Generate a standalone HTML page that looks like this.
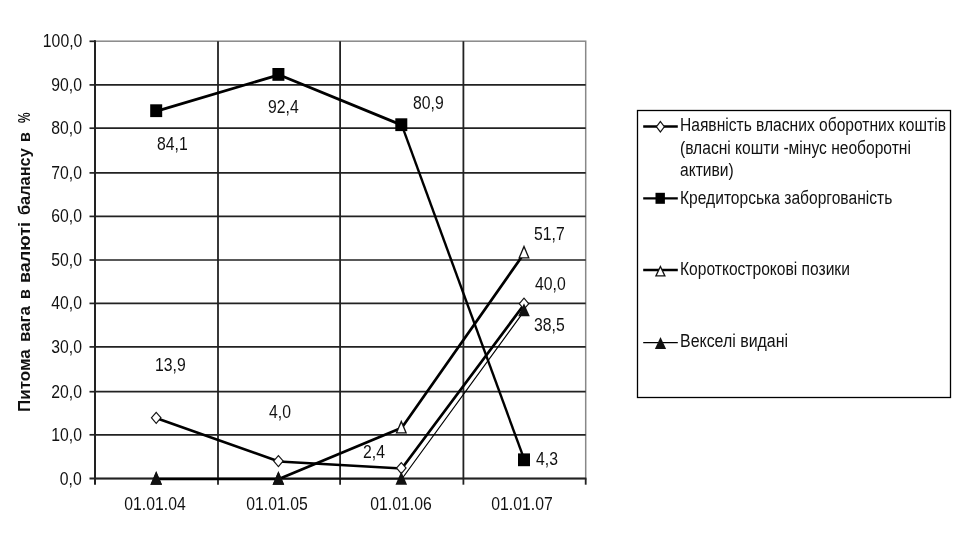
<!DOCTYPE html>
<html><head><meta charset="utf-8"><title>chart</title>
<style>
html,body{margin:0;padding:0;background:#fff;}
body{width:962px;height:535px;position:relative;overflow:hidden;font-family:"Liberation Sans",sans-serif;color:#111;}
svg{position:absolute;left:0;top:0;}
.t{position:absolute;white-space:nowrap;font-size:18.5px;line-height:18.5px;transform-origin:0 0;transform:scaleX(0.852);}
.r{transform-origin:100% 0;}
.c{transform-origin:50% 0;}
.lg{position:absolute;white-space:nowrap;font-size:18px;line-height:22.4px;transform-origin:0 0;transform:scaleX(0.866);}
.yt{position:absolute;white-space:nowrap;font-weight:bold;font-size:17px;line-height:20px;transform-origin:0 0;}
#w{position:absolute;left:0;top:0;width:962px;height:535px;will-change:transform;filter:blur(0.4px);}
</style></head><body><div id="w">

<svg width="962" height="535" viewBox="0 0 962 535">
<rect x="95" y="41.2" width="490.7" height="437.4" fill="none" stroke="#888" stroke-width="1.5"/>
<line x1="95" x2="585.7" y1="434.8" y2="434.8" stroke="#222" stroke-width="1.7"/>
<line x1="95" x2="585.7" y1="391.7" y2="391.7" stroke="#222" stroke-width="1.7"/>
<line x1="95" x2="585.7" y1="346.9" y2="346.9" stroke="#222" stroke-width="1.7"/>
<line x1="95" x2="585.7" y1="303.4" y2="303.4" stroke="#222" stroke-width="1.7"/>
<line x1="95" x2="585.7" y1="260.0" y2="260.0" stroke="#222" stroke-width="1.7"/>
<line x1="95" x2="585.7" y1="216.4" y2="216.4" stroke="#222" stroke-width="1.7"/>
<line x1="95" x2="585.7" y1="172.9" y2="172.9" stroke="#222" stroke-width="1.7"/>
<line x1="95" x2="585.7" y1="128.2" y2="128.2" stroke="#222" stroke-width="1.7"/>
<line x1="95" x2="585.7" y1="84.9" y2="84.9" stroke="#222" stroke-width="1.7"/>
<line x1="218.0" x2="218.0" y1="41.2" y2="478.6" stroke="#222" stroke-width="1.8"/>
<line x1="340.1" x2="340.1" y1="41.2" y2="478.6" stroke="#222" stroke-width="1.8"/>
<line x1="463.4" x2="463.4" y1="41.2" y2="478.6" stroke="#222" stroke-width="1.8"/>
<line x1="95" x2="95" y1="40.3" y2="484.7" stroke="#222" stroke-width="2"/>
<line x1="89.5" x2="586.4" y1="478.6" y2="478.6" stroke="#222" stroke-width="2"/>
<line x1="89.5" x2="95" y1="434.8" y2="434.8" stroke="#222" stroke-width="1.7"/>
<line x1="89.5" x2="95" y1="391.7" y2="391.7" stroke="#222" stroke-width="1.7"/>
<line x1="89.5" x2="95" y1="346.9" y2="346.9" stroke="#222" stroke-width="1.7"/>
<line x1="89.5" x2="95" y1="303.4" y2="303.4" stroke="#222" stroke-width="1.7"/>
<line x1="89.5" x2="95" y1="260.0" y2="260.0" stroke="#222" stroke-width="1.7"/>
<line x1="89.5" x2="95" y1="216.4" y2="216.4" stroke="#222" stroke-width="1.7"/>
<line x1="89.5" x2="95" y1="172.9" y2="172.9" stroke="#222" stroke-width="1.7"/>
<line x1="89.5" x2="95" y1="128.2" y2="128.2" stroke="#222" stroke-width="1.7"/>
<line x1="89.5" x2="95" y1="84.9" y2="84.9" stroke="#222" stroke-width="1.7"/>
<line x1="89.5" x2="95" y1="41.3" y2="41.3" stroke="#222" stroke-width="1.7"/>
<line x1="218.0" x2="218.0" y1="478.6" y2="484.7" stroke="#222" stroke-width="1.8"/>
<line x1="340.1" x2="340.1" y1="478.6" y2="484.7" stroke="#222" stroke-width="1.8"/>
<line x1="463.4" x2="463.4" y1="478.6" y2="484.7" stroke="#222" stroke-width="1.8"/>
<line x1="585.7" x2="585.7" y1="478.6" y2="484.7" stroke="#222" stroke-width="1.8"/>
<g transform="translate(0.5,0.4)" fill="none" stroke="#000" stroke-linejoin="round">
<polyline points="156.2,417.8 278.4,461.1 401.3,468.1 524.0,303.6" stroke-width="2.7"/>
<polyline points="156.2,110.7 278.4,74.4 401.3,124.7" stroke-width="2.8"/>
<polyline points="401.3,124.7 524.0,459.8" stroke-width="2.4"/>
<polyline points="156.2,478.6 278.4,478.6 401.3,427.4 524.0,252.5" stroke-width="2.7"/>
<polyline points="156.2,478.6 278.4,478.6 401.3,478.6 524.0,310.2" stroke-width="1.2"/>
</g>
<polygon points="156.20,411.40 161.70,417.80 156.20,424.20 150.70,417.80" fill="#111"/><polygon points="156.20,413.17 160.18,417.80 156.20,422.44 152.22,417.80" fill="#fff"/>
<polygon points="278.40,454.70 283.90,461.10 278.40,467.50 272.90,461.10" fill="#111"/><polygon points="278.40,456.47 282.38,461.10 278.40,465.74 274.42,461.10" fill="#fff"/>
<polygon points="401.30,461.70 406.80,468.10 401.30,474.50 395.80,468.10" fill="#111"/><polygon points="401.30,463.47 405.28,468.10 401.30,472.74 397.32,468.10" fill="#fff"/>
<polygon points="524.00,297.24 529.50,303.64 524.00,310.04 518.50,303.64" fill="#111"/><polygon points="524.00,299.00 527.98,303.64 524.00,308.28 520.02,303.64" fill="#fff"/>
<rect x="150.2" y="104.3" width="12.0" height="12.8" fill="#000"/>
<rect x="272.4" y="68.0" width="12.0" height="12.8" fill="#000"/>
<rect x="395.3" y="118.3" width="12.0" height="12.8" fill="#000"/>
<rect x="518.0" y="453.4" width="12.0" height="12.8" fill="#000"/>
<polygon points="156.20,471.00 162.00,484.70 150.40,484.70" fill="#111"/><polygon points="156.20,474.33 160.04,483.40 152.36,483.40" fill="#fff"/>
<polygon points="278.40,471.00 284.20,484.70 272.60,484.70" fill="#111"/><polygon points="278.40,474.33 282.24,483.40 274.56,483.40" fill="#fff"/>
<polygon points="401.30,419.82 407.10,433.52 395.50,433.52" fill="#111"/><polygon points="401.30,423.16 405.14,432.22 397.46,432.22" fill="#fff"/>
<polygon points="524.00,244.86 529.80,258.56 518.20,258.56" fill="#111"/><polygon points="524.00,248.20 527.84,257.26 520.16,257.26" fill="#fff"/>
<polygon points="156.20,471.60 162.00,484.70 150.40,484.70" fill="#111"/>
<polygon points="278.40,471.60 284.20,484.70 272.60,484.70" fill="#111"/>
<polygon points="401.30,471.60 407.10,484.70 395.50,484.70" fill="#111"/>
<polygon points="524.00,303.20 529.80,316.30 518.20,316.30" fill="#111"/>
<rect x="637.5" y="110.5" width="313" height="287" fill="#fff" stroke="#000" stroke-width="1.3"/>
<line x1="643.2" x2="677.8" y1="126.5" y2="126.5" stroke="#000" stroke-width="2.4"/>
<line x1="643.2" x2="677.8" y1="198.4" y2="198.4" stroke="#000" stroke-width="2.4"/>
<line x1="643.2" x2="677.8" y1="270.0" y2="270.0" stroke="#000" stroke-width="2.4"/>
<line x1="643.2" x2="677.8" y1="342.7" y2="342.7" stroke="#000" stroke-width="1.2"/>
<polygon points="660.40,120.55 665.10,126.75 660.40,132.95 655.70,126.75" fill="#111"/><polygon points="660.40,122.45 663.66,126.75 660.40,131.05 657.14,126.75" fill="#fff"/>
<rect x="655.5" y="192.8" width="9.4" height="11.0" fill="#000"/>
<polygon points="660.40,265.10 665.90,276.50 654.90,276.50" fill="#111"/><polygon points="660.40,268.09 663.83,275.20 656.97,275.20" fill="#fff"/>
<polygon points="660.50,337.10 666.10,348.90 654.90,348.90" fill="#111"/>
</svg>
<div class="t r" style="right:880.1px;top:469.5px">0,0</div>
<div class="t r" style="right:880.1px;top:425.7px">10,0</div>
<div class="t r" style="right:880.1px;top:382.6px">20,0</div>
<div class="t r" style="right:880.1px;top:337.8px">30,0</div>
<div class="t r" style="right:880.1px;top:294.3px">40,0</div>
<div class="t r" style="right:880.1px;top:250.9px">50,0</div>
<div class="t r" style="right:880.1px;top:207.3px">60,0</div>
<div class="t r" style="right:880.1px;top:163.8px">70,0</div>
<div class="t r" style="right:880.1px;top:119.1px">80,0</div>
<div class="t r" style="right:880.1px;top:75.8px">90,0</div>
<div class="t r" style="right:880.1px;top:32.2px">100,0</div>
<div class="t c" style="left:105.1px;width:100px;text-align:center;top:494.6px">01.01.04</div>
<div class="t c" style="left:227.4px;width:100px;text-align:center;top:494.6px">01.01.05</div>
<div class="t c" style="left:350.6px;width:100px;text-align:center;top:494.6px">01.01.06</div>
<div class="t c" style="left:472.1px;width:100px;text-align:center;top:494.6px">01.01.07</div>
<div class="t" style="left:157.0px;top:134.9px">84,1</div>
<div class="t" style="left:267.6px;top:98.3px">92,4</div>
<div class="t" style="left:412.9px;top:94.1px">80,9</div>
<div class="t" style="left:534.2px;top:225.1px">51,7</div>
<div class="t" style="left:534.7px;top:274.5px">40,0</div>
<div class="t" style="left:534.2px;top:315.9px">38,5</div>
<div class="t" style="left:536.2px;top:449.6px">4,3</div>
<div class="t" style="left:154.8px;top:356.3px">13,9</div>
<div class="t" style="left:268.5px;top:403.3px">4,0</div>
<div class="t" style="left:362.8px;top:442.7px">2,4</div>
<div class="lg" style="left:680.4px;top:114.3px">Наявність власних оборотних коштів<br>(власні кошти -мінус необоротні<br>активи)</div>
<div class="lg" style="left:680.4px;top:186.6px">Кредиторська заборгованість</div>
<div class="lg" style="left:680.4px;top:258.3px">Короткострокові позики</div>
<div class="lg" style="left:680.4px;top:330.1px;transform:scaleX(0.885)">Векселі видані</div>
<div class="yt" style="left:15px;top:411.5px;width:300px;height:20px;transform:rotate(-90deg)">
<span style="position:absolute;left:0.0px;top:0;transform-origin:0 0;transform:scaleX(1.000)">Питома</span>
<span style="position:absolute;left:70.4px;top:0;transform-origin:0 0;transform:scaleX(0.994)">вага</span>
<span style="position:absolute;left:112.6px;top:0;transform-origin:0 0;transform:scaleX(0.940)">в</span>
<span style="position:absolute;left:128.6px;top:0;transform-origin:0 0;transform:scaleX(1.060)">валюті</span>
<span style="position:absolute;left:197.2px;top:0;transform-origin:0 0;transform:scaleX(0.962)">балансу</span>
<span style="position:absolute;left:269.8px;top:0;transform-origin:0 0;transform:scaleX(0.940)">в</span>
<span style="position:absolute;left:288.8px;top:0;transform-origin:0 0;transform:scaleX(0.705)">%</span>
</div>
</div></body></html>
